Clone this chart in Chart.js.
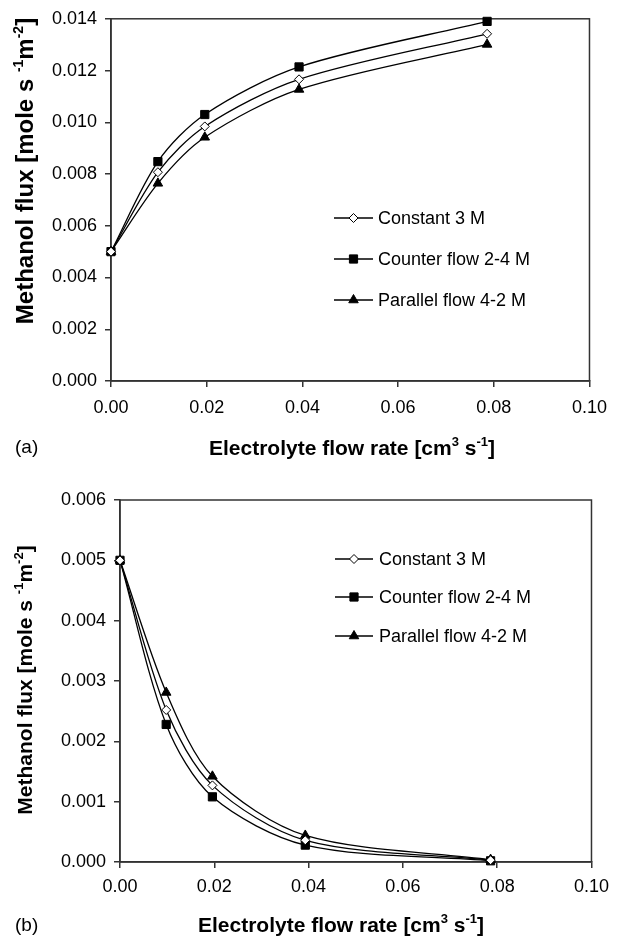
<!DOCTYPE html>
<html>
<head>
<meta charset="utf-8">
<script src="https://cdn.jsdelivr.net/npm/chart.js@4.4.1/dist/chart.umd.min.js"></script>
<style>
  body { margin: 0; background: #fff; }
  #wrap { position: relative; width: 617px; height: 937px; }
  canvas { position: absolute; left: 0; }
</style>
</head>
<body>
<div id="wrap">
  <canvas id="chartA" width="617" height="470" style="top:0"></canvas>
  <canvas id="chartB" width="617" height="467" style="top:470px"></canvas>
</div>
<script>
// electrolyte flow rate [cm3 s-1]
const flowRate = [0, 0.0098, 0.0196, 0.0393, 0.0786];
const seriesNames = ['Constant 3 M', 'Counter flow 2-4 M', 'Parallel flow 4-2 M'];

// (a) methanol flux
const constantA = [0.00500, 0.00807, 0.00984, 0.01166, 0.01342];
const counterA  = [0.00500, 0.00848, 0.01030, 0.01214, 0.01390];
const parallelA = [0.00500, 0.00764, 0.00942, 0.01127, 0.01301];

// (b) methanol flux
const constantB = [0.00500, 0.00252, 0.00127, 0.00036, 0.00003];
const counterB  = [0.00500, 0.00228, 0.00108, 0.00028, 0.00002];
const parallelB = [0.00500, 0.00281, 0.00142, 0.00044, 0.00004];

const xTicks  = [0, 0.02, 0.04, 0.06, 0.08, 0.10];
const yTicksA = [0, 0.002, 0.004, 0.006, 0.008, 0.010, 0.012, 0.014];
const yTicksB = [0, 0.001, 0.002, 0.003, 0.004, 0.005, 0.006];

const FONT = '"Liberation Sans", Arial, sans-serif';
const markers = [
  { style: 'rectRot', r: 4.5, fill: '#fff' },
  { style: 'rect', r: 5.8, fill: '#000' },
  { style: 'triangle', r: 5.5, fill: '#000' }
];

function drawMarker(ctx, m, x, y) {
  ctx.beginPath();
  if (m.style === 'rectRot') {
    ctx.moveTo(x, y - m.r); ctx.lineTo(x + m.r, y); ctx.lineTo(x, y + m.r); ctx.lineTo(x - m.r, y);
  } else if (m.style === 'rect') {
    const s = m.r * Math.SQRT1_2;
    ctx.rect(x - s, y - s, 2 * s, 2 * s);
  } else {
    const h = m.r * Math.sqrt(3) / 2;
    ctx.moveTo(x, y - m.r); ctx.lineTo(x + h, y + m.r / 2); ctx.lineTo(x - h, y + m.r / 2);
  }
  ctx.closePath();
  ctx.fillStyle = m.fill; ctx.fill();
  ctx.lineWidth = 1; ctx.strokeStyle = '#000'; ctx.stroke();
}

// parts: [text, superscript?]
function drawRich(ctx, parts, cx, base, size) {
  const fnt = p => 'bold ' + (p[1] ? Math.round(size * 0.6) : size) + 'px ' + FONT;
  let w = 0;
  parts.forEach(p => { ctx.font = fnt(p); w += ctx.measureText(p[0]).width; });
  let x = cx - w / 2;
  ctx.textAlign = 'left'; ctx.textBaseline = 'alphabetic';
  parts.forEach(p => {
    ctx.font = fnt(p);
    ctx.fillText(p[0], x, p[1] ? base - size * 0.42 : base);
    x += ctx.measureText(p[0]).width;
  });
}

const xTitle = [['Electrolyte flow rate [cm', false], ['3', true], [' s', false], ['-1', true], [']', false]];
const yTitle = [['Methanol flux [mole s ', false], ['-1', true], ['m', false], ['-2', true], [']', false]];

const decor = {
  id: 'decor',
  beforeDatasetsDraw(chart) {
    const { ctx, chartArea: a } = chart;
    ctx.save();
    ctx.strokeStyle = '#333'; ctx.lineWidth = 1.5;
    ctx.strokeRect(a.left, a.top, a.right - a.left, a.bottom - a.top);
    ctx.restore();
  },
  afterDraw(chart) {
    const { ctx } = chart;
    const o = chart.options.plugins.decor;
    ctx.save();
    ctx.fillStyle = '#000';
    drawRich(ctx, xTitle, o.xTitle.x, o.xTitle.y, o.xTitle.size);
    ctx.save();
    ctx.translate(o.yTitle.x, o.yTitle.y);
    ctx.rotate(-Math.PI / 2);
    drawRich(ctx, yTitle, 0, 0, o.yTitle.size);
    ctx.restore();
    ctx.font = '19px ' + FONT;
    ctx.textAlign = 'left'; ctx.textBaseline = 'alphabetic';
    ctx.fillText(o.panel.text, o.panel.x, o.panel.y);
    // legend
    seriesNames.forEach((name, i) => {
      const y = o.legend.y[i];
      ctx.beginPath();
      ctx.moveTo(o.legend.x0, y); ctx.lineTo(o.legend.x1, y);
      ctx.lineWidth = 1.3; ctx.strokeStyle = '#000'; ctx.stroke();
      drawMarker(ctx, markers[i], (o.legend.x0 + o.legend.x1) / 2, y);
      ctx.fillStyle = '#000';
      ctx.font = '18px ' + FONT;
      ctx.textBaseline = 'middle';
      ctx.fillText(name, o.legend.tx, y + 1);
    });
    ctx.restore();
  }
};

function makeChart(id, series, yTicks, yMax, lay) {
  const datasets = series.map((vals, i) => ({
    label: seriesNames[i],
    data: flowRate.map((x, j) => ({ x: x, y: vals[j] })),
    showLine: true,
    tension: 0.3,
    borderColor: '#000',
    borderWidth: 1.3,
    pointStyle: markers[i].style,
    pointRadius: markers[i].r,
    pointBackgroundColor: markers[i].fill,
    pointBorderColor: '#000',
    pointBorderWidth: 1,
    clip: false
  }));
  return new Chart(document.getElementById(id), {
    type: 'scatter',
    data: { datasets: datasets },
    options: {
      responsive: false,
      animation: false,
      layout: { padding: { left: 0, right: lay.right, top: lay.top, bottom: 0 } },
      plugins: {
        legend: { display: false },
        tooltip: { enabled: false },
        decor: lay.decor
      },
      scales: {
        x: {
          type: 'linear', min: 0, max: 0.1,
          afterBuildTicks: s => { s.ticks = xTicks.map(v => ({ value: v })); },
          afterFit: s => { s.height = lay.xH; },
          ticks: { color: '#000', font: { family: FONT, size: 18 }, padding: lay.xPad,
                   callback: v => v.toFixed(2), maxRotation: 0 },
          grid: { drawOnChartArea: false, drawTicks: true, tickLength: 6, color: '#333', lineWidth: 1.5 },
          border: { color: '#333', width: 1.5 }
        },
        y: {
          type: 'linear', min: 0, max: yMax,
          afterBuildTicks: s => { s.ticks = yTicks.map(v => ({ value: v })); },
          afterFit: s => { s.width = lay.yW; },
          ticks: { color: '#000', font: { family: FONT, size: 18 }, padding: 8,
                   callback: v => v.toFixed(3) },
          grid: { drawOnChartArea: false, drawTicks: true, tickLength: 6, color: '#333', lineWidth: 1.5 },
          border: { color: '#333', width: 1.5 }
        }
      }
    },
    plugins: [decor]
  });
}

makeChart('chartA', [constantA, counterA, parallelA], yTicksA, 0.014, {
  right: 20, top: 17, xH: 89, yW: 111, xPad: 10,
  decor: {
    xTitle: { x: 352, y: 455, size: 21 },
    yTitle: { x: 33, y: 171, size: 24 },
    panel: { text: '(a)', x: 15, y: 453 },
    legend: { x0: 334, x1: 373, tx: 378, y: [218, 259, 300] }
  }
});

makeChart('chartB', [constantB, counterB, parallelB], yTicksB, 0.006, {
  right: 18, top: 30, xH: 75, yW: 120, xPad: 8,
  decor: {
    xTitle: { x: 341, y: 462, size: 21 },
    yTitle: { x: 32, y: 210, size: 21 },
    panel: { text: '(b)', x: 15, y: 461 },
    legend: { x0: 335, x1: 373, tx: 379, y: [89, 127, 166] }
  }
});
</script>
</body>
</html>
